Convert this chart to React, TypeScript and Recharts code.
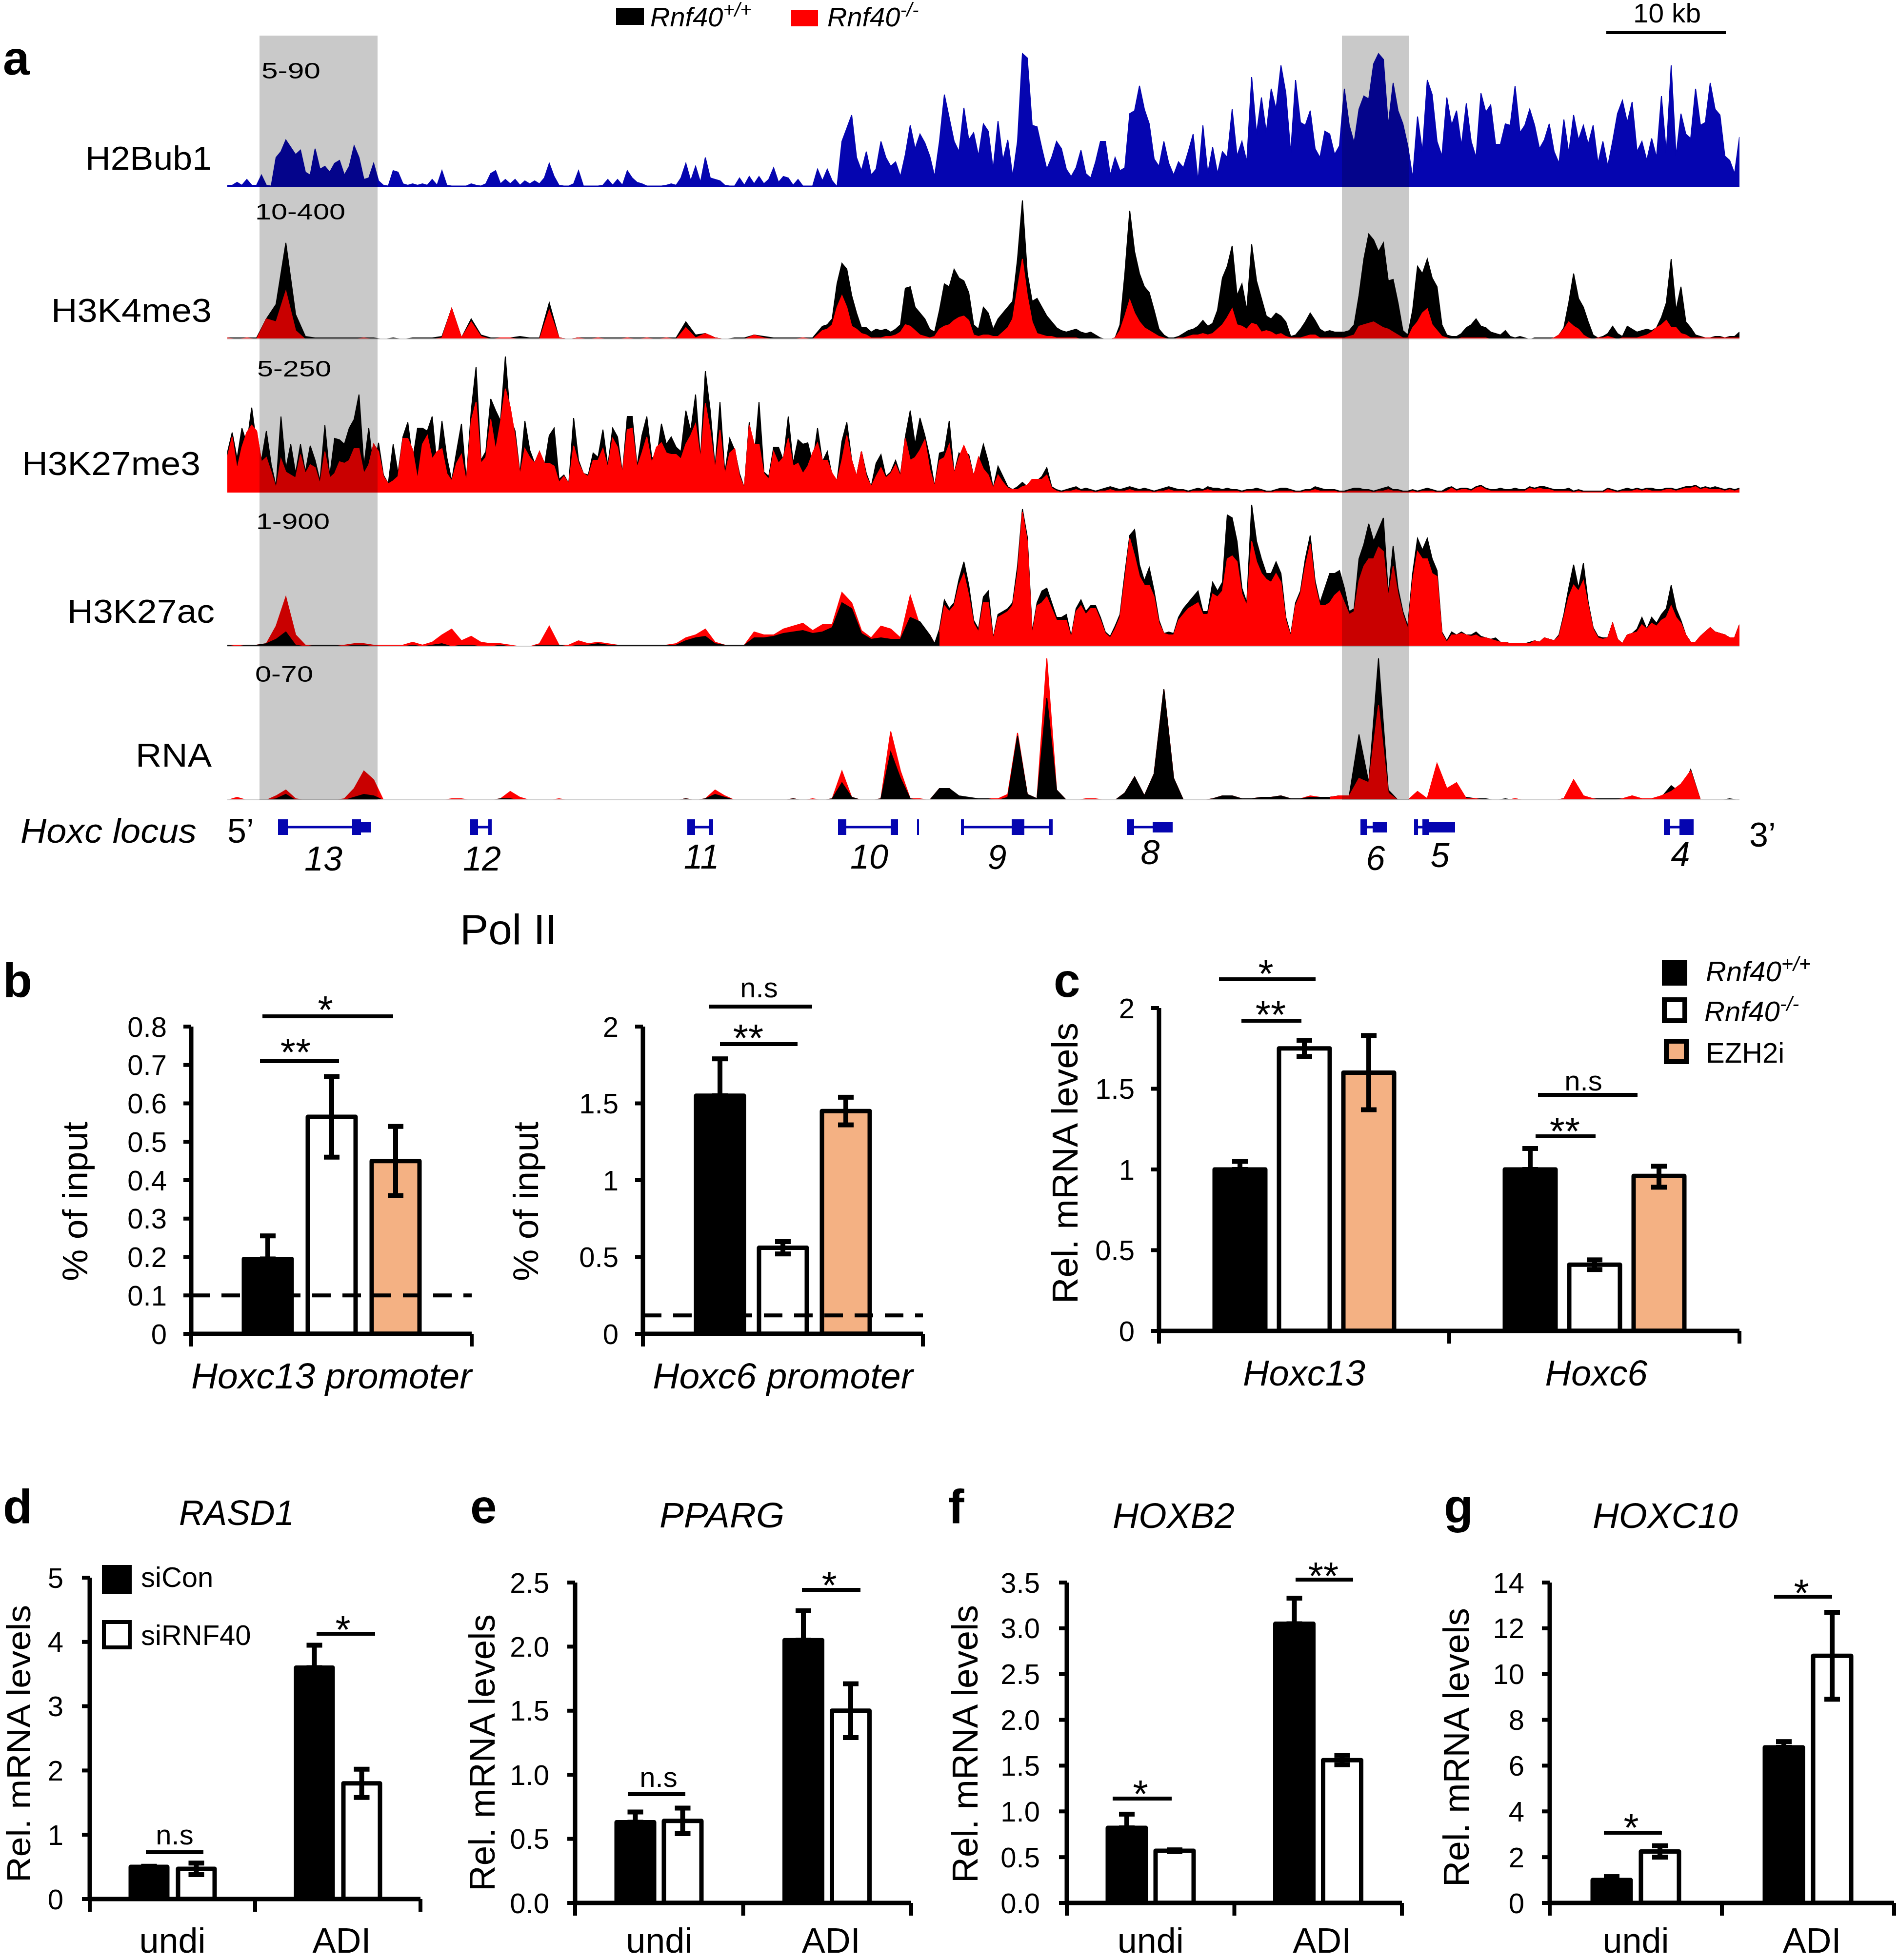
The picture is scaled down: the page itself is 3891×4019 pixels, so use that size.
import React from "react";
import {
  AreaChart,
  Area,
  BarChart,
  Bar,
  ErrorBar,
  XAxis,
  YAxis,
  ReferenceLine,
  ReferenceArea,
} from "recharts";

const FONT = "'Liberation Sans', Arial, sans-serif";
const BLUE = "#0505b0";
const RED = "#ff0000";
const ORANGE = "#f4b183";

// panel a: coverage per bin along the locus, 0-100 % of the track range
const h2bub1 = [
  1, 1, 3, 1, 5, 1, 1, 8, 1, 0.5,
  20, 24, 32, 27, 22, 25, 10, 8, 26, 12,
  14, 10, 16, 18, 8, 14, 28, 20, 5, 6,
  16, 4, 1, 0.5, 11, 10, 2, 1, 2, 1,
  2, 1, 5, 1, 11, 1, 0.5, 0.5, 0.5, 0.5,
  2, 1, 0.5, 2, 9, 11, 2, 5, 2, 5,
  1, 4, 2, 4, 2, 6, 16, 7, 1, 0.5,
  0.5, 2, 11, 0.5, 0.5, 0.5, 0.5, 1, 5, 1,
  5, 1, 11, 6, 3, 2, 0.5, 0.5, 0.5, 0.5,
  1, 2, 1, 6, 16, 4, 14, 3, 20, 6,
  5, 4, 1, 0.5, 0.5, 6, 1, 7, 2, 7,
  2, 5, 13, 3, 7, 6, 1, 5, 0.5, 0.5,
  0.5, 12, 4, 12, 4, 0, 31, 40, 49, 20,
  11, 24, 8, 12, 31, 20, 14, 17, 7, 22,
  42, 26, 36, 30, 21, 7, 31, 63, 47, 31,
  24, 54, 32, 37, 21, 43, 38, 12, 45, 18,
  32, 7, 31, 91, 88, 42, 41, 26, 12, 20,
  31, 26, 12, 7, 13, 25, 9, 6, 17, 31,
  31, 8, 20, 11, 13, 50, 52, 69, 53, 43,
  19, 14, 31, 16, 8, 17, 13, 24, 36, 4,
  42, 9, 27, 9, 24, 20, 53, 21, 31, 17,
  75, 36, 61, 37, 67, 53, 83, 64, 23,
  73, 44, 42, 52, 26, 20, 38, 36, 22, 28,
  67, 42, 30, 53, 62, 60, 84, 91, 87, 42,
  71, 52, 43, 28, 6, 48, 24, 73, 63, 31,
  21, 61, 42, 52, 28, 57, 31, 20, 64, 51,
  56, 29, 29, 43, 42, 69, 37, 42, 53, 42,
  26, 32, 43, 24, 16, 46, 23, 49, 32, 42,
  29, 42, 16, 31, 14, 31, 50, 59, 44, 58,
  24, 31, 18, 33, 20, 62, 23, 83, 21, 50,
  36, 33, 67, 42, 44, 71, 53, 49, 21, 18,
  9, 34,
];
// the sparse left end of these tracks is read at half the resolution (see coarseBins)
const k4me3Wt = [
  1, 1, 1, 1, 14, 24, 66, 17, 2, 1,
  1, 1, 1, 1, 1, 1, 0, 1, 0, 1,
  1, 1, 2, 21, 1, 14, 3, 1, 1, 1,
  2, 1, 1, 25, 1, 0, 1, 1, 1, 1,
  1, 1, 1, 1, 1, 1, 1, 12, 3, 4,
  1, 0, 1, 1, 3, 2, 1, 1, 1, 1,
  1,
  9, 10, 14, 38, 52, 48, 30, 18, 8, 8,
  5, 7, 6, 7, 5, 7, 10, 35, 36, 22,
  18, 14, 7, 5, 20, 38, 36, 48, 42, 40,
  32, 10, 7, 22, 18, 7, 14, 18, 22, 26,
  55, 95, 45, 26, 28, 22, 16, 12, 8, 6,
  5, 6, 7, 5, 4, 5, 3, 1, 0, 0,
  1, 10, 45, 88, 60, 45, 36, 32, 20, 7,
  3, 1, 1, 2, 4, 6, 7, 9, 13, 9,
  11, 20, 42, 50, 64, 30, 38, 20, 65, 40,
  28, 16, 14, 18, 16, 12, 2, 3, 7, 12,
  18, 13, 7, 5, 6, 5, 5, 5, 6, 10,
  30, 55, 72, 68, 60, 66, 40, 41, 25, 6,
  3, 20, 50, 45, 55, 42, 36, 10, 3, 2,
  2, 4, 8, 10, 14, 9, 8, 5, 4, 3,
  6, 2, 1, 2, 1, 0, 1, 1, 1, 1,
  1, 3, 8, 25, 45, 28, 22, 12, 3, 1,
  2, 4, 9, 4, 2, 9, 7, 5, 6, 7,
  6, 8, 15, 25, 55, 20, 36, 12, 8, 3,
  2, 1, 1, 2, 2, 1, 2, 2, 5,
];
const k4me3Ko = [
  1, 0, 1, 0, 14, 12, 33, 6, 0, 0,
  0, 0, 0, 0, 1, 0, 0, 0, 0, 0,
  0, 0, 1, 21, 1, 12, 2, 0, 1, 1,
  0, 0, 0, 20, 1, 0, 1, 0, 1, 0,
  0, 1, 0, 1, 0, 1, 0, 8, 1, 4,
  1, 0, 0, 0, 3, 1, 0, 0, 0, 1,
  0,
  6, 7, 10, 22, 30, 22, 9, 7, 4, 3,
  1, 1, 1, 2, 2, 3, 5, 10, 9, 6,
  3, 2, 1, 2, 7, 9, 10, 13, 15, 16,
  13, 3, 2, 3, 3, 2, 2, 5, 8, 14,
  35, 55, 30, 12, 4, 3, 2, 2, 1, 1,
  1, 1, 1, 0, 0, 0, 0, 0, 0, 0,
  1, 6, 16, 27, 18, 12, 8, 6, 4, 2,
  1, 0, 0, 1, 1, 2, 3, 3, 4, 3,
  4, 7, 10, 15, 21, 10, 9, 7, 11, 10,
  5, 6, 5, 3, 4, 2, 1, 1, 1, 2,
  3, 3, 1, 1, 1, 1, 1, 1, 2, 3,
  9, 10, 11, 12, 10, 8, 7, 5, 3, 1,
  1, 8, 12, 18, 21, 10, 6, 2, 1, 0,
  0, 1, 1, 1, 1, 1, 1, 0, 0, 0,
  0, 0, 0, 0, 0, 0, 0, 0, 0, 0,
  1, 3, 7, 12, 9, 7, 3, 1, 0, 1,
  1, 2, 1, 0, 1, 1, 1, 1, 2, 3,
  5, 8, 10, 13, 8, 8, 4, 3, 1, 1,
  1, 1, 1, 1, 1, 1, 1, 1, 1,
];
const k27me3Wt = [
  27, 41, 23, 44, 33, 58, 33, 22, 42, 19,
  4, 52, 16, 33, 13, 33, 14, 32, 22, 8,
  46, 11, 37, 36, 33, 44, 50, 67, 18, 44,
  14, 34, 12, 6, 33, 13, 38, 48, 22, 44,
  44, 42, 52, 18, 49, 24, 8, 28, 47, 8,
  56, 86, 22, 28, 64, 56, 49, 93, 51, 42,
  13, 49, 29, 20, 28, 18, 39, 44, 9, 12,
  6, 51, 22, 13, 12, 27, 24, 43, 18, 44,
  38, 13, 52, 52, 18, 39, 52, 24, 23, 47,
  33, 38, 31, 28, 56, 42, 67, 23, 83, 56,
  17, 62, 13, 37, 29, 13, 3, 48, 22, 62,
  14, 11, 31, 31, 22, 52, 20, 36, 33, 34,
  20, 44, 21, 28, 11, 8, 35, 48, 22, 11,
  28, 13, 4, 20, 26, 11, 14, 22, 12, 38,
  56, 33, 51, 39, 24, 4, 27, 28, 49, 13,
  27, 23, 26, 11, 20, 33, 21, 3, 18, 11,
  4, 2, 4, 7, 4, 4, 8, 11, 17, 4,
  2, 1, 2, 3, 4, 2, 3, 2, 1, 2,
  3, 4, 3, 2, 3, 4, 3, 2, 3, 2,
  1, 2, 3, 4, 3, 2, 2, 1, 2, 3,
  2, 4, 3, 3, 2, 3, 2, 2, 1, 2,
  2, 3, 2, 1, 1, 2, 3, 3, 2, 1,
  1, 2, 2, 4, 3, 2, 2, 2, 1, 1,
  2, 3, 3, 2, 2, 1, 2, 3, 4, 2,
  2, 1, 1, 2, 1, 2, 3, 2, 1, 1,
  3, 4, 2, 3, 3, 2, 4, 5, 3, 2,
  2, 3, 2, 2, 3, 2, 2, 4, 3, 4,
  4, 3, 2, 2, 2, 3, 1, 2, 1, 1,
  1, 1, 1, 3, 2, 1, 2, 3, 2, 3,
  2, 3, 3, 2, 2, 3, 3, 2, 3, 4,
  4, 5, 3, 4, 3, 4, 3, 2, 3, 2, 3,
];
const k27me3Ko = [
  24, 38, 16, 31, 41, 46, 42, 21, 24, 14,
  3, 23, 14, 12, 10, 26, 13, 19, 17, 6,
  28, 10, 13, 21, 20, 22, 30, 30, 13, 19,
  33, 28, 11, 6, 8, 11, 37, 37, 29, 9,
  33, 39, 23, 28, 30, 13, 8, 20, 26, 7,
  49, 62, 20, 24, 50, 29, 48, 71, 58, 38,
  12, 30, 24, 20, 28, 20, 20, 18, 7, 11,
  6, 32, 20, 13, 11, 22, 22, 30, 17, 37,
  31, 13, 43, 44, 17, 27, 38, 20, 31, 34,
  27, 26, 26, 23, 33, 39, 47, 23, 61, 42,
  16, 43, 12, 27, 30, 11, 3, 46, 33, 33,
  13, 9, 28, 20, 24, 37, 18, 20, 13, 18,
  27, 34, 22, 22, 13, 8, 22, 39, 22, 11,
  28, 11, 4, 11, 17, 10, 13, 19, 11, 37,
  22, 24, 29, 36, 16, 4, 22, 24, 33, 13,
  24, 32, 24, 11, 24, 16, 12, 3, 12, 7,
  3, 2, 2, 4, 5, 9, 9, 9, 12, 3,
  1, 0, 1, 1, 2, 1, 1, 1, 0, 1,
  1, 2, 1, 1, 1, 2, 1, 1, 1, 1,
  0, 1, 1, 2, 1, 1, 1, 0, 1, 1,
  1, 2, 1, 1, 1, 1, 1, 1, 0, 1,
  1, 1, 1, 0, 0, 1, 1, 1, 1, 0,
  0, 1, 1, 2, 1, 1, 1, 1, 0, 0,
  1, 1, 1, 1, 1, 0, 1, 1, 2, 1,
  1, 0, 0, 1, 0, 1, 1, 1, 0, 0,
  1, 3, 1, 2, 2, 1, 3, 4, 2, 1,
  1, 1, 1, 1, 1, 1, 1, 3, 2, 3,
  2, 2, 1, 1, 1, 1, 0, 1, 0, 0,
  0, 0, 0, 2, 1, 0, 1, 1, 1, 2,
  1, 2, 1, 1, 1, 2, 2, 1, 2, 3,
  3, 4, 2, 3, 2, 2, 2, 1, 2, 1, 2,
];
const k27acWt = [
  1, 0, 1, 1, 2, 5, 10, 1, 0, 1,
  1, 1, 0, 1, 1, 0, 0, 0, 0, 1,
  0, 1, 2, 0, 1, 1, 0, 0, 1, 0,
  0, 0, 1, 1, 1, 0, 1, 1, 2, 1,
  1, 1, 1, 1, 1, 1, 1, 4, 6, 7,
  2, 1, 1, 1, 6, 6, 7, 9, 10, 11,
  9, 10, 13, 30, 26, 9, 5, 6, 5, 5,
  20, 17,
  8, 2, 12, 32, 26, 30, 46, 58, 42, 18,
  12, 34, 38, 6, 22, 24, 26, 30, 55, 94,
  75, 10, 30, 38, 40, 30, 20, 20, 22, 7,
  26, 32, 24, 28, 28, 20, 10, 7, 14, 22,
  50, 76, 80, 56, 45, 54, 38, 18, 9, 10,
  9, 20, 26, 30, 34, 38, 24, 24, 44, 38,
  44, 90, 88, 72, 40, 30, 97, 72, 60, 50,
  50, 58, 50, 20, 8, 30, 38, 60, 76, 45,
  30, 40, 50, 50, 52, 40, 24, 26, 60, 70,
  84, 72, 80, 88, 36, 69, 40, 24, 14, 50,
  74, 66, 74, 60, 52, 10, 4, 10, 8, 10,
  8, 8, 10, 7, 6, 5, 6, 3, 3, 2,
  2, 2, 2, 3, 4, 3, 6, 5, 4, 8,
  22, 40, 56, 40, 57, 30, 13, 7, 6, 6,
  16, 5, 2, 8, 9, 12, 20, 12, 20, 16,
  22, 26, 42, 26, 18, 8, 3, 3, 7, 10,
  13, 10, 9, 8, 6, 6, 15,
];
const k27acKo = [
  1, 1, 1, 1, 2, 14, 34, 8, 1, 1,
  1, 1, 1, 2, 2, 1, 1, 1, 1, 3,
  1, 3, 8, 12, 4, 7, 3, 2, 2, 1,
  0, 0, 2, 14, 1, 1, 4, 2, 3, 2,
  1, 1, 1, 1, 1, 1, 2, 6, 8, 12,
  3, 1, 1, 1, 10, 8, 8, 12, 14, 16,
  11, 15, 15, 37, 30, 11, 6, 14, 12, 6,
  35, 14,
  8, 2, 10, 28, 24, 28, 42, 50, 35, 16,
  10, 30, 30, 5, 20, 22, 24, 28, 50, 92,
  72, 8, 28, 30, 34, 26, 18, 18, 18, 6,
  24, 28, 22, 26, 26, 18, 9, 6, 12, 20,
  46, 74, 62, 48, 42, 42, 34, 16, 9, 8,
  8, 18, 22, 26, 28, 30, 22, 22, 36, 34,
  38, 60, 62, 58, 36, 28, 72, 58, 50, 46,
  44, 50, 44, 18, 7, 28, 36, 55, 70, 42,
  28, 28, 30, 35, 38, 30, 22, 24, 45, 55,
  60, 60, 68, 65, 34, 55, 36, 22, 12, 45,
  65, 60, 60, 50, 48, 9, 3, 8, 8, 9,
  8, 7, 8, 6, 6, 5, 4, 3, 3, 2,
  2, 2, 2, 2, 4, 3, 6, 5, 4, 7,
  20, 34, 42, 38, 45, 28, 12, 6, 5, 6,
  16, 5, 2, 8, 9, 10, 15, 12, 16, 14,
  18, 20, 28, 20, 16, 8, 3, 3, 7, 10,
  13, 10, 9, 8, 6, 6, 15,
];
const rnaWt = [
  0, 0, 0, 0, 0, 1, 4, 0, 0, 0,
  0, 0, 0, 2, 4, 3, 0, 0, 0, 0,
  0, 0, 0, 0, 0, 0, 0, 0, 1, 1,
  0, 0, 0, 0, 0, 0, 0, 0, 0, 0,
  0, 0, 0, 0, 0, 0, 0, 1, 0, 1,
  4, 2, 0, 0, 0, 0, 0, 0, 1, 0,
  0, 0, 1, 12, 2, 0, 0, 1, 33, 15,
  1, 0, 0, 8, 8, 3, 2, 1, 1, 0,
  2, 44, 4, 1, 70, 7, 0, 0, 0, 0,
  0, 0, 5, 16, 3, 18, 76, 15, 0, 0,
  0, 1, 3, 3, 1, 1, 2, 2, 3, 1,
  1, 2, 2, 2, 3, 3, 45, 12, 97, 7,
  0, 0, 5, 1, 5, 2, 1, 2, 1, 1,
  0, 1, 0, 0, 0, 0, 0, 1, 1, 1,
  1, 1, 1, 1, 2, 1, 1, 2, 10, 5,
  21, 0, 0, 0, 1, 0,
];
const rnaKo = [
  0, 2, 0, 0, 0, 3, 7, 1, 0, 0,
  0, 0, 1, 8, 20, 14, 0, 0, 0, 0,
  0, 0, 0, 1, 1, 0, 0, 0, 1, 6,
  2, 0, 0, 0, 1, 0, 0, 0, 0, 0,
  0, 0, 0, 0, 0, 0, 0, 1, 0, 1,
  7, 3, 0, 0, 0, 0, 0, 0, 1, 0,
  1, 0, 1, 20, 2, 0, 0, 1, 47, 20,
  1, 1, 0, 8, 8, 2, 1, 1, 1, 1,
  4, 46, 4, 1, 97, 7, 0, 0, 1, 1,
  0, 0, 5, 16, 3, 18, 76, 15, 0, 0,
  0, 1, 3, 3, 1, 1, 2, 2, 3, 1,
  1, 3, 2, 2, 3, 3, 15, 12, 65, 5,
  0, 0, 6, 1, 25, 8, 12, 1, 1, 0,
  0, 0, 1, 0, 0, 0, 0, 1, 14, 3,
  1, 0, 0, 1, 3, 1, 1, 3, 6, 11,
  20, 0, 0, 0, 0, 0,
];

// gene models on the 0-155 locus scale: [start, end]
const geneIntrons = [
  [6.2, 12.8], [25.7, 26.75], [47.95, 49.4], [63.45, 68], [75.5, 80.4], [81.7, 84.25], [92.95, 94.85], [116.8, 117.4], [122.05, 122.5], [147.9, 148.85],
];
const geneExonsTall = [
  [5.2, 6.2], [12.8, 13.7], [24.9, 25.7], [26.75, 27.1], [47.15, 47.95], [49.4, 49.8], [62.6, 63.45], [68, 68.75], [70.7, 70.9],
  [75.2, 75.5], [80.4, 81.7], [84.25, 84.6], [92.2, 92.95], [116.15, 116.8], [121.65, 122.05], [122.5, 123.15], [147.25, 147.9], [148.85, 150.3],
];
const geneExonsUtr = [
  [13.7, 14.75], [94.85, 96.9], [117.4, 118.85], [123.15, 125.85],
];

// panel b
const bCats1 = ["Hoxc13 promoter"];
const bWt1 = [0.195];
const bWt1Err = [[0, 0.06]];
const bKo1 = [0.565];
const bKo1Err = [[0.105, 0.105]];
const bEz1 = [0.45];
const bEz1Err = [[0.09, 0.09]];
const bCats2 = ["Hoxc6 promoter"];
const bWt2 = [1.55];
const bWt2Err = [[0, 0.24]];
const bKo2 = [0.56];
const bKo2Err = [[0.04, 0.04]];
const bEz2 = [1.45];
const bEz2Err = [[0.09, 0.09]];
const bTicks1 = [0, 0.1, 0.2, 0.3, 0.4, 0.5, 0.6, 0.7, 0.8];
const bTicks2 = [0, 0.5, 1, 1.5, 2];

// panel c
const cCats = ["Hoxc13", "Hoxc6"];
const cWt = [1.0, 1.0];
const cWtErr = [[0, 0.05], [0, 0.13]];
const cKo = [1.75, 0.41];
const cKoErr = [[0.05, 0.05], [0.03, 0.03]];
const cEz = [1.6, 0.96];
const cEzErr = [[0.23, 0.23], [0.07, 0.06]];
const cTicks = [0, 0.5, 1, 1.5, 2];

// panels d-g
const siCats = ["undi", "ADI"];
const rasd1Con = [0.5, 3.6];
const rasd1ConErr = [[0, 0.01], [0, 0.35]];
const rasd1Si = [0.47, 1.8];
const rasd1SiErr = [[0.09, 0.09], [0.22, 0.22]];
const rasd1Ticks = [0, 1, 2, 3, 4, 5];
const ppargCon = [0.63, 2.05];
const ppargConErr = [[0, 0.08], [0, 0.23]];
const ppargSi = [0.64, 1.5];
const ppargSiErr = [[0.1, 0.1], [0.21, 0.21]];
const ppargTicks = [0, 0.5, 1, 1.5, 2, 2.5];
const hoxb2Con = [0.82, 3.05];
const hoxb2ConErr = [[0, 0.15], [0, 0.28]];
const hoxb2Si = [0.57, 1.56];
const hoxb2SiErr = [[0.01, 0.01], [0.05, 0.05]];
const hoxb2Ticks = [0, 0.5, 1, 1.5, 2, 2.5, 3, 3.5];
const hoxc10Con = [1.0, 6.8];
const hoxc10ConErr = [[0, 0.15], [0, 0.25]];
const hoxc10Si = [2.25, 10.8];
const hoxc10SiErr = [[0.25, 0.25], [1.9, 1.9]];
const hoxc10Ticks = [0, 2, 4, 6, 8, 10, 12, 14];

function Track({ top, main, other, frontFrom, mainColor, baseColor, coarseBins = 0 }: any) {
  // the first coarseBins entries span two locus units each
  const place = (i: number) => (i < coarseBins ? i * 2 : i + coarseBins);
  const rows = main.map((v: number, i: number) => ({
    bin: place(i),
    back: v,
    other: other ? other[i] : null,
    front: other && i >= frontFrom ? v : null,
  }));
  return (
    <div style={{ position: "absolute", left: 466, top }}>
      <AreaChart width={3100} height={300} data={rows} margin={{ top: 0, right: 0, bottom: 0, left: 0 }}>
        <XAxis dataKey="bin" type="number" domain={[0, place(main.length - 1)]} hide />
        <YAxis domain={[0, 100]} hide />
        <ReferenceLine y={0} stroke={baseColor} strokeWidth={4} />
        <Area dataKey="back" type="linear" stroke={mainColor} strokeWidth={2} fill={mainColor} fillOpacity={1} dot={false} isAnimationActive={false} />
        {other && (
          <Area dataKey="other" type="linear" stroke="#000" strokeWidth={2} fill="#000" fillOpacity={1} dot={false} isAnimationActive={false} />
        )}
        {other && (
          <Area dataKey="front" type="linear" stroke={mainColor} strokeWidth={2} fill={mainColor} fillOpacity={1} dot={false} isAnimationActive={false} />
        )}
      </AreaChart>
    </div>
  );
}

function GeneTrack() {
  const rows = [{ bin: 0, y: 0 }, { bin: 155, y: 0 }];
  const box = (list: number[][], h: number, key: string) =>
    list.map((g, i) => (
      <ReferenceArea key={key + i} x1={g[0]} x2={g[1]} y1={-h} y2={h} fill={BLUE} fillOpacity={1} stroke="none" ifOverflow="visible" />
    ));
  return (
    <div style={{ position: "absolute", left: 466, top: 1676 }}>
      <AreaChart width={3100} height={40} data={rows} margin={{ top: 0, right: 0, bottom: 0, left: 0 }}>
        <XAxis dataKey="bin" type="number" domain={[0, 155]} hide />
        <YAxis domain={[-1, 1]} hide />
        <Area dataKey="y" stroke="none" fill="none" dot={false} isAnimationActive={false} />
        {box(geneIntrons, 0.13, "i")}
        {box(geneExonsUtr, 0.55, "u")}
        {box(geneExonsTall, 0.8, "t")}
      </AreaChart>
    </div>
  );
}

function BoundaryTick({ x, y, payload, index, step, count, labelDy, italic, labelSize, shift }: any) {
  const left = x - step / 2;
  return (
    <g>
      <line x1={left} x2={left} y1={y} y2={y + 26} stroke="#000" strokeWidth={8} />
      {index === count - 1 && (
        <line x1={x + step / 2} x2={x + step / 2} y1={y} y2={y + 26} stroke="#000" strokeWidth={8} />
      )}
      <text x={x + (index > 0 ? shift : 0)} y={y + labelDy} textAnchor="middle" fontFamily={FONT} fontSize={labelSize} fontStyle={italic ? "italic" : "normal"} fill="#000">
        {payload.value}
      </text>
    </g>
  );
}

function BarPanel({ left, right, top, bottom, yMax, ticks, digits, cats, series, barSize, barGap, cutoff, labelDy, gap, italic, labelSize = 72, shift = 0 }: any) {
  const yw = 170;
  const headroom = 60;
  const xh = 135;
  const plotW = right - left;
  const plotH = bottom - top;
  const rows = cats.map((c: string, i: number) => {
    const row: any = { cat: c };
    series.forEach((s: any, k: number) => {
      row["v" + k] = s.values[i];
      row["e" + k] = s.errs[i];
    });
    return row;
  });
  return (
    <div style={{ position: "absolute", left: left - yw, top: top - headroom }}>
      <BarChart
        width={yw + plotW + 30}
        height={headroom + plotH + xh}
        data={rows}
        barSize={barSize}
        barGap={barGap}
        margin={{ top: headroom, right: 30, bottom: 0, left: 0 }}
      >
        <XAxis
          dataKey="cat"
          height={xh}
          interval={0}
          tickLine={false}
          tickSize={0}
          tickMargin={0}
          axisLine={{ stroke: "#000", strokeWidth: 9 }}
          tick={(p: any) => (
            <BoundaryTick {...p} step={plotW / cats.length} count={cats.length} labelDy={labelDy} italic={italic} labelSize={labelSize} shift={shift} />
          )}
        />
        <YAxis
          width={yw}
          domain={[0, yMax]}
          ticks={ticks}
          interval={0}
          allowDataOverflow
          tickSize={16}
          tickMargin={gap}
          tickFormatter={(v: number) => (digits ? v.toFixed(digits) : String(v))}
          tickLine={{ stroke: "#000", strokeWidth: 8 }}
          axisLine={{ stroke: "#000", strokeWidth: 9 }}
          tick={{ fontSize: 58, fill: "#000", fontFamily: FONT }}
        />
        {series.map((s: any, k: number) => (
          <Bar key={k} dataKey={"v" + k} fill={s.fill} stroke="#000" strokeWidth={9} strokeLinejoin="round" isAnimationActive={false}>
            <ErrorBar dataKey={"e" + k} direction="y" width={16} stroke="#000" strokeWidth={10} isAnimationActive={false} />
          </Bar>
        ))}
        {cutoff != null && <ReferenceLine y={cutoff} stroke="#000" strokeWidth={8} strokeDasharray="38 24" />}
      </BarChart>
    </div>
  );
}

function T({ x, y, s, size = 58, anchor = "start", italic, bold, rot, len }: any) {
  return (
    <text
      x={x}
      y={y}
      fontFamily={FONT}
      fontSize={size}
      textAnchor={anchor}
      fontStyle={italic ? "italic" : "normal"}
      fontWeight={bold ? "bold" : "normal"}
      transform={rot ? `rotate(-90 ${x} ${y})` : undefined}
      textLength={len}
      lengthAdjust={len ? "spacingAndGlyphs" : undefined}
      fill="#000"
    >
      {s}
    </text>
  );
}

function Genotype({ x, y, size, sup }: any) {
  return (
    <text x={x} y={y} fontFamily={FONT} fontSize={size} fontStyle="italic" fill="#000">
      Rnf40
      <tspan dy={-size * 0.36} fontSize={size * 0.72}>{sup}</tspan>
    </text>
  );
}

function Sig({ x1, x2, y, label, cx, cy }: any) {
  return (
    <g>
      <line x1={x1} x2={x2} y1={y} y2={y} stroke="#000" strokeWidth={8} />
      {label === "n.s" ? (
        <T x={cx} y={cy} s="n.s" size={58} anchor="middle" />
      ) : (
        <T x={cx} y={cy + 47} s={label} size={80} anchor="middle" />
      )}
    </g>
  );
}

function Overlay() {
  const tracks = [
    ["H2Bub1", 175, 348, 259], ["H3K4me3", 105, 660, 329], ["H3K27me3", 45, 974, 366], ["H3K27ac", 138, 1277, 302], ["RNA", 278, 1572, 156],
  ];
  const ranges = [
    ["5-90", 536, 161, 121], ["10-400", 523, 450, 185], ["5-250", 527, 772, 152], ["1-900", 525, 1085, 151], ["0-70", 523, 1398, 119],
  ];
  const geneNames = [
    ["13", 663, 1785], ["12", 988, 1785], ["11", 1438, 1781], ["10", 1782, 1781], ["9", 2044, 1782], ["8", 2358, 1772], ["6", 2820, 1784], ["5", 2952, 1778], ["4", 3445, 1776],
  ];
  const panels = [
    ["a", 6, 153], ["b", 6, 2044], ["c", 2160, 2044], ["d", 6, 3123], ["e", 964, 3123], ["f", 1944, 3123], ["g", 2960, 3123],
  ];
  const titles = [
    ["RASD1", 367, 3127, 236], ["PPARG", 1352, 3132, 256], ["HOXB2", 2281, 3133, 250], ["HOXC10", 3265, 3133, 298],
  ];
  const relLabels = [
    [2209, 2673, 576, 74], [62, 3860, 569, 68], [1014, 3878, 568, 74], [2004, 3861, 570, 74], [3011, 3869, 572, 74],
  ];
  return (
    <svg width={3891} height={4019} style={{ position: "absolute", left: 0, top: 0, pointerEvents: "none" }}>
      <rect x={1263} y={16} width={57} height={35} fill="#000" />
      <Genotype x={1333} y={54} size={56} sup="+/+" />
      <rect x={1622} y={20} width={55} height={34} fill={RED} />
      <Genotype x={1696} y={54} size={56} sup="-/-" />
      <T x={3348} y={46} s="10 kb" size={56} len={139} />
      <line x1={3293} x2={3538} y1={67} y2={67} stroke="#000" strokeWidth={6} />
      {panels.map((p) => <T key={p[0] as string} x={p[1]} y={p[2]} s={p[0]} size={98} bold />)}
      {tracks.map((t) => <T key={t[0] as string} x={t[1]} y={t[2]} s={t[0]} size={68} len={t[3]} />)}
      {ranges.map((t) => <T key={t[0] as string} x={t[1]} y={t[2]} s={t[0]} size={46} len={t[3]} />)}
      <T x={42} y={1728} s="Hoxc locus" size={70} italic len={361} />
      <T x={466} y={1728} s="5’" size={70} />
      <T x={3586} y={1736} s="3’" size={70} />
      {geneNames.map((t) => <T key={t[0] as string} x={t[1]} y={t[2]} s={t[0]} size={70} anchor="middle" italic />)}
      <T x={943} y={1936} s="Pol II" size={87} len={199} />

      <T x={179} y={2627} s="% of input" size={72} rot len={327} />
      <T x={1103} y={2627} s="% of input" size={72} rot len={327} />
      <Sig x1={538} x2={806} y={2084} label="*" cx={667} cy={2051} />
      <Sig x1={533} x2={695} y={2176} label="**" cx={606} cy={2138} />
      <Sig x1={1454} x2={1665} y={2064} label="n.s" cx={1556} cy={2045} />
      <Sig x1={1476} x2={1635} y={2141} label="**" cx={1534} cy={2109} />

      {relLabels.map((t, i) => <T key={i} x={t[0]} y={t[1]} s="Rel. mRNA levels" size={t[3]} rot len={t[2]} />)}
      <Sig x1={2499} x2={2697} y={2008} label="*" cx={2595} cy={1977} />
      <Sig x1={2545} x2={2668} y={2093} label="**" cx={2605} cy={2061} />
      <Sig x1={3153} x2={3357} y={2245} label="n.s" cx={3246} cy={2236} />
      <Sig x1={3148} x2={3271} y={2330} label="**" cx={3208} cy={2300} />
      <rect x={3407} y={1968} width={52} height={53} fill="#000" />
      <rect x={3412} y={2050} width={42} height={43} fill="#fff" stroke="#000" strokeWidth={10} />
      <rect x={3416} y={2135} width={41} height={42} fill={ORANGE} stroke="#000" strokeWidth={10} />
      <Genotype x={3497} y={2012} size={58} sup="+/+" />
      <Genotype x={3494} y={2094} size={58} sup="-/-" />
      <T x={3497} y={2179} s="EZH2i" size={58} />

      {titles.map((t) => <T key={t[0] as string} x={t[1]} y={t[2]} s={t[0]} size={72} italic len={t[3]} />)}
      <rect x={209} y={3209} width={61} height={60} fill="#000" />
      <rect x={213} y={3326} width={53} height={52} fill="#fff" stroke="#000" strokeWidth={8} />
      <T x={289} y={3254} s="siCon" size={58} />
      <T x={289} y={3373} s="siRNF40" size={58} />
      <Sig x1={299} x2={417} y={3798} label="n.s" cx={358} cy={3782} />
      <Sig x1={649} x2={769} y={3350} label="*" cx={703} cy={3322} />
      <Sig x1={1287} x2={1405} y={3679} label="n.s" cx={1350} cy={3664} />
      <Sig x1={1644} x2={1764} y={3260} label="*" cx={1700} cy={3231} />
      <Sig x1={2281} x2={2402} y={3688} label="*" cx={2338} cy={3659} />
      <Sig x1={2656} x2={2774} y={3239} label="**" cx={2713} cy={3212} />
      <Sig x1={3288} x2={3407} y={3758} label="*" cx={3344} cy={3728} />
      <Sig x1={3637} x2={3756} y={3274} label="*" cx={3693} cy={3247} />
    </svg>
  );
}

const band = (left: number, width: number) => (
  <div style={{ position: "absolute", left, top: 73, width, height: 1567, background: "#c9c9c9", mixBlendMode: "multiply" }} />
);

export default function App() {
  const wtKo = (a: number[], ae: number[][], b: number[], be: number[][]) => [
    { values: a, errs: ae, fill: "#000" },
    { values: b, errs: be, fill: "#fff" },
  ];
  return (
    <div style={{ position: "absolute", left: 0, top: 0, width: 3891, height: 4019, background: "#fff", overflow: "hidden", isolation: "isolate" }}>
      <Track top={83} main={h2bub1} mainColor={BLUE} baseColor={BLUE} />
      <Track top={396} main={k4me3Ko} other={k4me3Wt} frontFrom={0} coarseBins={61} mainColor={RED} baseColor="#cccccc" />
      <Track top={710} main={k27me3Ko} other={k27me3Wt} frontFrom={0} mainColor={RED} baseColor={RED} />
      <Track top={1026} main={k27acKo} other={k27acWt} frontFrom={74} coarseBins={72} mainColor={RED} baseColor="#cccccc" />
      <Track top={1341} main={rnaKo} other={rnaWt} frontFrom={113} mainColor={RED} baseColor="#cccccc" />
      <GeneTrack />
      {band(532, 242)}
      {band(2751, 138)}

      <BarPanel left={392} right={967} top={2105} bottom={2735} yMax={0.8} ticks={bTicks1} cats={bCats1} barSize={98} barGap={33} cutoff={0.1} labelDy={112} labelSize={75} italic gap={34}
        series={[
          { values: bWt1, errs: bWt1Err, fill: "#000" },
          { values: bKo1, errs: bKo1Err, fill: "#fff" },
          { values: bEz1, errs: bEz1Err, fill: ORANGE },
        ]} />
      <BarPanel left={1318} right={1892} top={2105} bottom={2735} yMax={2} ticks={bTicks2} cats={bCats2} barSize={98} barGap={31} cutoff={0.12} labelDy={112} labelSize={75} italic gap={34}
        series={[
          { values: bWt2, errs: bWt2Err, fill: "#000" },
          { values: bKo2, errs: bKo2Err, fill: "#fff" },
          { values: bEz2, errs: bEz2Err, fill: ORANGE },
        ]} />
      <BarPanel left={2376} right={3566} top={2067} bottom={2729} yMax={2} ticks={cTicks} cats={cCats} barSize={104} barGap={28} labelDy={112} labelSize={74} italic shift={4} gap={34}
        series={[
          { values: cWt, errs: cWtErr, fill: "#000" },
          { values: cKo, errs: cKoErr, fill: "#fff" },
          { values: cEz, errs: cEzErr, fill: ORANGE },
        ]} />
      <BarPanel left={184} right={862} top={3235} bottom={3894} yMax={5} ticks={rasd1Ticks} cats={siCats} barSize={75} barGap={22} labelDy={110} shift={8} gap={38} series={wtKo(rasd1Con, rasd1ConErr, rasd1Si, rasd1SiErr)} />
      <BarPanel left={1179} right={1868} top={3245} bottom={3902} yMax={2.5} ticks={ppargTicks} digits={1} cats={siCats} barSize={77} barGap={20} labelDy={102} shift={8} gap={37} series={wtKo(ppargCon, ppargConErr, ppargSi, ppargSiErr)} />
      <BarPanel left={2187} right={2874} top={3245} bottom={3902} yMax={3.5} ticks={hoxb2Ticks} digits={1} cats={siCats} barSize={78} barGap={20} labelDy={102} shift={8} gap={39} series={wtKo(hoxb2Con, hoxb2ConErr, hoxb2Si, hoxb2SiErr)} />
      <BarPanel left={3177} right={3883} top={3245} bottom={3902} yMax={14} ticks={hoxc10Ticks} cats={siCats} barSize={78} barGap={21} labelDy={102} shift={8} gap={36} series={wtKo(hoxc10Con, hoxc10ConErr, hoxc10Si, hoxc10SiErr)} />
      <Overlay />
    </div>
  );
}
